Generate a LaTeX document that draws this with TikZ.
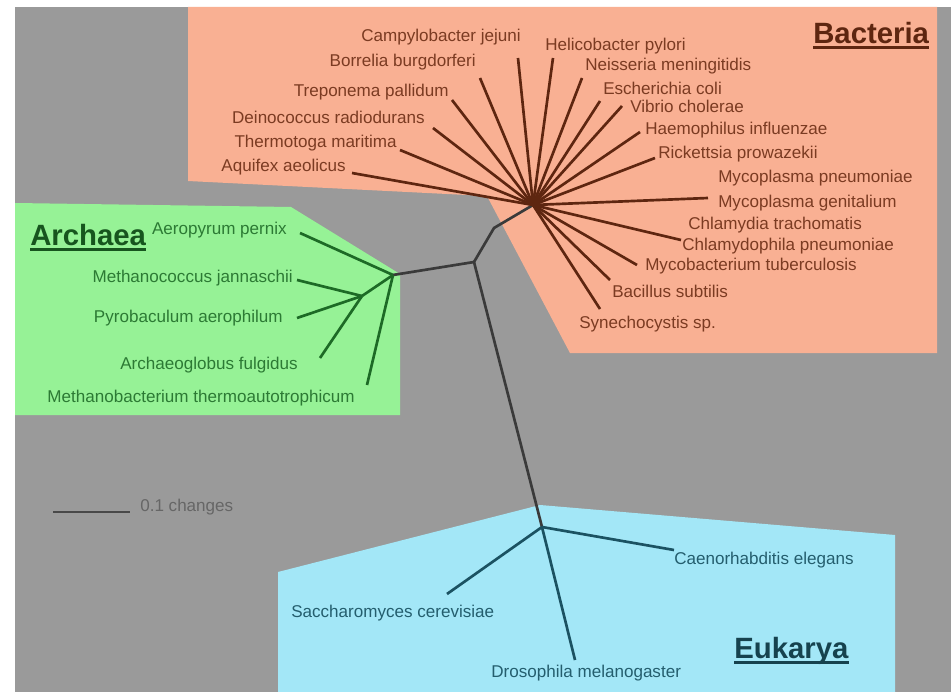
\documentclass[tikz,border=0pt]{standalone}
\usepackage{fontspec}
\setmainfont{Liberation Sans}
\definecolor{bggray}{HTML}{9A9A9A}
\definecolor{bactfill}{HTML}{F9B093}
\definecolor{archfill}{HTML}{96F296}
\definecolor{eukfill}{HTML}{A3E7F7}
\definecolor{bactink}{HTML}{5E2610}
\definecolor{bacttext}{HTML}{7B3B22}
\definecolor{archink}{HTML}{1D6A26}
\definecolor{archtext}{HTML}{2C7A34}
\definecolor{eukink}{HTML}{1B5262}
\definecolor{euktext}{HTML}{245E6E}
\definecolor{trunkink}{HTML}{3A3A3A}

\begin{document}
\begin{tikzpicture}[x=0.75pt, y=-0.75pt,
	bactline/.style={draw=bactink, line width=2pt},
	archline/.style={draw=archink, line width=2pt},
	eukline/.style={draw=eukink, line width=2pt},
	trunkline/.style={draw=trunkink, line width=2pt},
	species/.style={inner sep=0pt, font=\fontsize{12.8}{15}\selectfont},
	bactlbl/.style={species, text=bacttext},
	archlbl/.style={species, text=archtext},
	euklbl/.style={species, text=euktext},
	domainname/.style={inner sep=0pt, anchor=west, font=\fontsize{22}{24}\selectfont\bfseries}]
		%%%%% START %%%%%
		\useasboundingbox (0,0) rectangle (951,692);
		\fill[white] (0,0) rectangle (951,692);
		\fill[bggray] (15,7) rectangle (951,692);
		
		\fill[bactfill] (188,7) -- (937,7) -- (937,353) -- (570,353) -- (487,196) -- (188,181) -- cycle;
		\fill[archfill] (15,203) -- (291,207) -- (400,274) -- (400,415) -- (15,415) -- cycle;
		\fill[eukfill] (278,692) -- (278,572) -- (540,505) -- (895,535) -- (895,692) -- cycle;
		
		% inner nodes
		\coordinate (bact) at (533,205);
		\coordinate (bend) at (494,228);
		\coordinate (root) at (474,262);
		\coordinate (arch) at (393,275);
		\coordinate (arch2) at (362,296);
		\coordinate (euk) at (542,527);
		
		\draw[trunkline] (bact) -- (bend) -- (root);
		\draw[trunkline] (root) -- (arch);
		\draw[trunkline] (root) -- (euk);
		
		% Bacteria
		\coordinate (aquifex) at (352,173);
		\coordinate (thermotoga) at (400,150);
		\coordinate (deinococcus) at (433,128);
		\coordinate (treponema) at (452,100);
		\coordinate (borrelia) at (480,78);
		\coordinate (campylo) at (518,58);
		\coordinate (helico) at (553,58);
		\coordinate (neisseria) at (582,78);
		\coordinate (ecoli) at (600,101);
		\coordinate (vibrio) at (622,106);
		\coordinate (haemo) at (640,132);
		\coordinate (ricket) at (655,158);
		\coordinate (mycopl) at (708,198);
		\coordinate (chlamy) at (681,240);
		\coordinate (mycobac) at (637,265);
		\coordinate (bacillus) at (610,280);
		\coordinate (synecho) at (600,309);
		
		\draw[bactline] (bact) -- (aquifex);
		\draw[bactline] (bact) -- (thermotoga);
		\draw[bactline] (bact) -- (deinococcus);
		\draw[bactline] (bact) -- (treponema);
		\draw[bactline] (bact) -- (borrelia);
		\draw[bactline] (bact) -- (campylo);
		\draw[bactline] (bact) -- (helico);
		\draw[bactline] (bact) -- (neisseria);
		\draw[bactline] (bact) -- (ecoli);
		\draw[bactline] (bact) -- (vibrio);
		\draw[bactline] (bact) -- (haemo);
		\draw[bactline] (bact) -- (ricket);
		\draw[bactline] (bact) -- (mycopl);
		\draw[bactline] (bact) -- (chlamy);
		\draw[bactline] (bact) -- (mycobac);
		\draw[bactline] (bact) -- (bacillus);
		\draw[bactline] (bact) -- (synecho);
		
		\node[bactlbl, anchor=east] (aquifexlbl) at (346,167) {Aquifex aeolicus};
		\node[bactlbl, anchor=east] (thermotogalbl) at (397,143) {Thermotoga maritima};
		\node[bactlbl, anchor=east] (deinococcuslbl) at (425,117) {Deinococcus radiodurans};
		\node[bactlbl, anchor=east] (treponemalbl) at (449,92) {Treponema pallidum};
		\node[bactlbl, anchor=east] (borrelialbl) at (476,62) {Borrelia burgdorferi};
		\node[bactlbl, anchor=east] (campylolbl) at (521,37) {Campylobacter jejuni};
		\node[bactlbl, anchor=west] (helicolbl) at (545,46) {Helicobacter pylori};
		\node[bactlbl, anchor=west] (neisserialbl) at (585,66) {Neisseria meningitidis};
		\node[bactlbl, anchor=west] (ecolilbl) at (603,88) {Escherichia coli};
		\node[bactlbl, anchor=west] (vibriolbl) at (630,106) {Vibrio cholerae};
		\node[bactlbl, anchor=west] (haemolbl) at (645,130) {Haemophilus influenzae};
		\node[bactlbl, anchor=west] (ricketlbl) at (658,154) {Rickettsia prowazekii};
		\node[bactlbl, anchor=west] (mycopnlbl) at (718,178) {Mycoplasma pneumoniae};
		\node[bactlbl, anchor=west] (mycogelbl) at (718,203) {Mycoplasma genitalium};
		\node[bactlbl, anchor=west] (chlatrlbl) at (688,225) {Chlamydia trachomatis};
		\node[bactlbl, anchor=west] (chlapnlbl) at (682,246) {Chlamydophila pneumoniae};
		\node[bactlbl, anchor=west] (mycobaclbl) at (645,266) {Mycobacterium tuberculosis};
		\node[bactlbl, anchor=west] (bacilluslbl) at (612,291) {Bacillus subtilis};
		\node[bactlbl, anchor=west] (synecholbl) at (579,324) {Synechocystis sp.};
		
		% Archaea
		\coordinate (aeropyrum) at (300,233);
		\coordinate (methbac) at (367,385);
		\coordinate (methcoc) at (297,280);
		\coordinate (pyrobac) at (297,318);
		\coordinate (archglob) at (320,358);
		
		\draw[archline] (arch) -- (aeropyrum);
		\draw[archline] (arch) -- (methbac);
		\draw[archline] (arch) -- (arch2);
		\draw[archline] (arch2) -- (methcoc);
		\draw[archline] (arch2) -- (pyrobac);
		\draw[archline] (arch2) -- (archglob);
		
		\node[archlbl, anchor=east] (aeropyrumlbl) at (287,230) {Aeropyrum pernix};
		\node[archlbl, anchor=east] (methcoclbl) at (293,278) {Methanococcus jannaschii};
		\node[archlbl, anchor=east] (pyrobaclbl) at (283,318) {Pyrobaculum aerophilum};
		\node[archlbl, anchor=east] (archgloblbl) at (298,365) {Archaeoglobus fulgidus};
		\node[archlbl, anchor=east] (methbaclbl) at (355,398) {Methanobacterium thermoautotrophicum};
		
		% Eukarya
		\coordinate (sacch) at (447,594);
		\coordinate (elegans) at (674,550);
		\coordinate (droso) at (575,660);
		
		\draw[eukline] (euk) -- (sacch);
		\draw[eukline] (euk) -- (elegans);
		\draw[eukline] (euk) -- (droso);
		
		\node[euklbl, anchor=west] (sacchlbl) at (291,613) {Saccharomyces cerevisiae};
		\node[euklbl, anchor=west] (eleganslbl) at (674,560) {Caenorhabditis elegans};
		\node[euklbl, anchor=west] (drosolbl) at (491,673) {Drosophila melanogaster};
		
		% domain names
		\node[domainname, text=bactink] (bactname) at (813,33) {Bacteria};
		\node[domainname, text=archink!80!black] (archname) at (30,235) {Archaea};
		\node[domainname, text=eukink!80!black] (eukname) at (734,651) {Eukarya};
		\draw[bactink, line width=2pt] ([yshift=-3pt]bactname.base west) -- ([yshift=-3pt]bactname.base east);
		\draw[archink!80!black, line width=2pt] ([yshift=-3pt]archname.base west) -- ([yshift=-3pt]archname.base east);
		\draw[eukink!80!black, line width=2pt] ([yshift=-3pt]eukname.base west) -- ([yshift=-3pt]eukname.base east);
		
		% scale
		\coordinate (scaleL) at (53,512);
		\coordinate (scaleR) at (130,512);
		\draw[trunkink!80!gray, line width=2pt] (scaleL) -- (scaleR);
		\node[species, anchor=west, text=black!60] (scalelbl) at (140,507) {0.1 changes};
		%%%%% END %%%%%
\end{tikzpicture}
\end{document}
